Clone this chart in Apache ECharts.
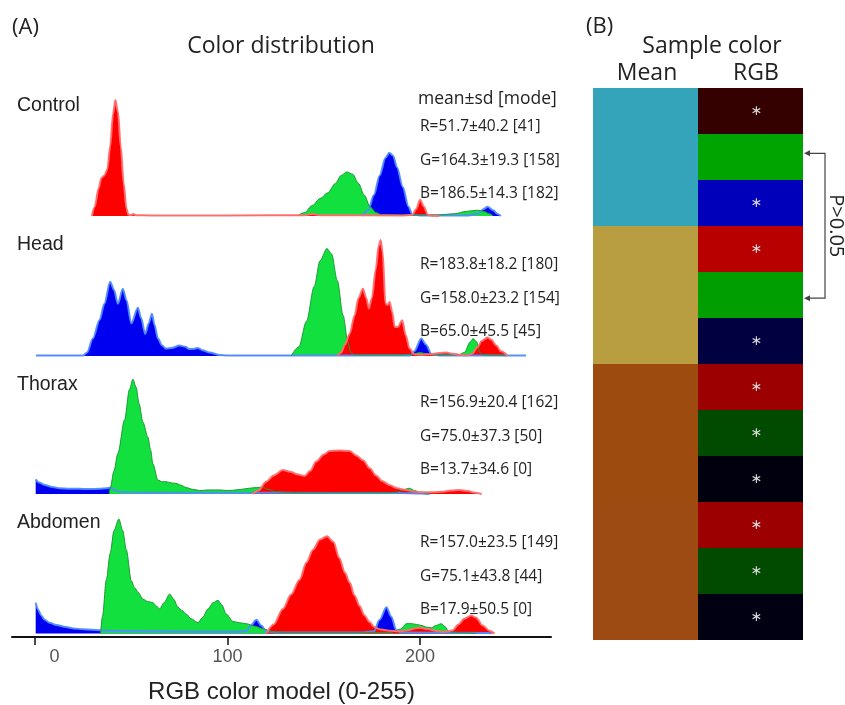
<!DOCTYPE html>
<html><head><meta charset="utf-8">
<script src="https://cdn.jsdelivr.net/npm/echarts@6/dist/echarts.min.js"></script>
<style>html,body{margin:0;padding:0;background:#fff}#c{width:845px;height:705px}</style>
</head><body><div id="c"></div>
<script>
// ---------- data ----------
const regions = ['Control', 'Head', 'Thorax', 'Abdomen'];
const xTicks = [0, 100, 200];
const meanR = [51.7, 183.8, 156.9, 157.0];
const sdR = [40.2, 18.2, 20.4, 23.5];
const modeR = [41, 180, 162, 149];
const meanG = [164.3, 158.0, 75.0, 75.1];
const sdG = [19.3, 23.2, 37.3, 43.8];
const modeG = [158, 154, 50, 44];
const meanB = [186.5, 65.0, 13.7, 17.9];
const sdB = [14.3, 45.5, 34.6, 50.5];
const modeB = [182, 45, 0, 0];
const starred = [[1, 0, 1], [1, 0, 1], [1, 1, 1], [1, 1, 1]];

// relative frequency histograms [value, density] (peak of each panel = 100)
const controlR = [[29.5,0],[31,8],[33,24],[34.5,33],[36,35],[37.5,40],[39,60],[40.5,88],[41.7,100],[43,90],[44.5,60],[46,28],[47.5,6],[48.5,1],[50,0.8],[51,1.8],[52.5,0.6],[60,0.5],[100,0.5],[140,0.6],[144,1.8],[148,0.6],[190,0.5],[196,1],[198,6],[200,14],[202,8],[204,1],[206,0.3],[210,0]];
const controlG = [[136,0],[140,3],[144,9],[148,15],[152,20],[156,28],[159,35],[162,38],[165,36],[168,28],[171,18],[174,8],[177,3],[180,1],[190,0.8],[200,0.8],[210,1],[218,2],[224,4],[230,5],[233,4],[236,2],[238,0]];
const controlB = [[170,0],[173,5],[176,18],[179,35],[182,50],[184,54.6],[186,52],[188,42],[191,25],[194,8],[196,1],[200,0.5],[225,0.5],[230,2],[233,6],[235,8],[238,5],[240,2],[242,0]];
const headR = [[157,0],[159,3],[161,10],[163.4,19],[166,35],[168,50],[170.3,58],[172,50],[173.4,41],[175,50],[177,75],[178.5,95],[179.5,100],[180.5,90],[182,45],[183,44],[184.2,46.5],[185.5,38],[186.8,25],[188.5,25],[190.7,30.8],[192.5,18],[194.5,6.4],[197,1.5],[200,1],[205,1.5],[210,2.5],[213.6,3],[217,2],[221,1],[224,0.5],[227,2],[230,8],[232,13],[235,16],[237,14],[239.6,9],[242,4],[245.6,0]];
const headG = [[133,0],[137,8],[141,30],[145,60],[148,82],[151.6,92.6],[154,88],[157,65],[160,35],[162.5,12],[164,3],[166,1],[190,1],[196,1.5],[200,3],[203,2],[207,1],[220,1],[223,3],[226,12],[227.5,15],[229.5,12],[231,3],[233,1],[240,0.5],[245,0]];
const headB = [[0.5,0.5],[20,0.5],[25,0.5],[27,3],[30,15],[33.5,31],[36,45],[39,64],[41,57],[43,45],[45.6,58],[47.5,48],[50,28],[53.4,41.7],[55,33],[57.2,19],[59,28],[60.7,36.5],[62,27],[63.8,15],[66,9],[68,6.4],[71,7],[75,9],[78,8],[80,6],[82,6],[84.4,7],[87,5],[90.6,3],[96,0.8],[100,0.5],[195,0.5],[197,4],[200.6,15],[203,10],[206,1.5],[210,0.5],[255,0.5]];
const thoraxR = [[113,0],[116,3],[120,10.6],[124,16],[128.7,20.7],[133,19],[136,17],[140,15.5],[143,20],[146,28],[150,34],[153,37],[158,37.5],[163.4,37],[167,33],[170.3,29],[174,22],[177,16],[180.5,11],[184,7.8],[188,5],[192.8,3.4],[197,2],[201,1.5],[206,1.5],[212,2],[216,3],[220.5,3.4],[225,2.5],[228,1.2],[231,0.5],[232,0]];
const thoraxG = [[38.5,0],[39,5],[41,20],[43,35],[46.5,64],[49,90],[50.8,99],[52.5,92],[54,78],[56,62],[58.6,49],[60,38],[61.2,26],[63.8,12],[66,10.5],[68,10.6],[71,9.5],[73,9.2],[76,7.5],[78.5,5.5],[82,4],[85.5,3],[90,3.5],[96,3.5],[100,3],[102.6,3.2],[107,4],[111.4,5],[115,5.5],[118,6],[121,4],[125,2],[130,1.5],[140,1],[180,1],[188,1.5],[192,4],[194.5,5],[197,3],[200,1.5],[205,0]];
const thoraxB = [[0.3,12.6],[2,10],[5,7.8],[9,6],[12.7,5],[18,4.6],[23,4.5],[28,4.3],[33.5,4.5],[37,5],[39,5.5],[42,3],[45,1.5],[60,1],[120,1],[190,0.8],[200,0.5],[205,0]];
const abdomenR = [[120,0],[124,8],[128.7,21.5],[133,34],[137.4,47],[141,62],[144.3,73],[148,82],[151.6,85],[155,80],[158,66],[161,53],[163.4,44.5],[166,33],[168.6,24],[171,16],[173.8,10],[176,6],[179,3.7],[184,2.5],[189,2],[194,3],[197,4.5],[200,5],[204,4],[208,2.5],[211.7,1.5],[215,2],[217,3],[220,8],[223,13],[226.6,15.8],[229,14],[232.5,7],[236,2.5],[238.7,0]];
const abdomenG = [[34,0],[35,15],[37,47],[39,70],[41,90],[43.5,100],[45.5,90],[47.4,73],[50,46],[51.7,40],[53.5,36],[56,30],[58.5,28],[61.2,27],[63,24],[64.7,21.5],[67,27],[69.9,34.5],[72,30],[74.2,23],[76.5,20],[78.5,17],[81,13],[84.6,9.5],[87,14],[89.8,21.5],[92.5,27],[95,29],[97,25],[99.3,17],[102.8,10.6],[106,9.5],[109.7,8.6],[114,6.5],[118.3,4.3],[123,1.5],[130,1],[185,1],[190,4],[192.8,8.6],[195,8.8],[198,8],[201,7],[203,5.7],[206,5],[208,7],[211,8.6],[213,6],[215,1.5],[220,1],[229,0]];
const abdomenB = [[0.3,27],[1.5,21],[3.2,15.8],[5,12],[7.5,9.5],[11,7.5],[16,5.7],[20,4.5],[25,3.7],[33.5,3],[40,2.5],[60,2],[90,1.5],[105,1.5],[110,2.5],[112,7],[115,12],[117.5,7],[120,2],[125,1],[170,1],[176,2],[179,12],[182.5,23],[185,15],[187.6,3],[190,1],[236,0.5],[237,0]];

const histR = [controlR, headR, thoraxR, abdomenR];
const histG = [controlG, headG, thoraxG, abdomenG];
const histB = [controlB, headB, thoraxB, abdomenB];

// ---------- layout ----------
const chart = echarts.init(document.getElementById('c'), null, {renderer: 'canvas'});
const gridTops = [100, 240, 378, 519];
const gridHeights = [116, 116, 116, 120];
const XMIN = -12, XMAX = 268;
const sans = '"Open Sans", "Noto Sans", sans-serif';
const arial = '"Liberation Sans", Arial, sans-serif';

const grids = [], xAxes = [], yAxes = [], series = [];
regions.forEach((r, i) => {
  grids.push({left: 12, width: 539, top: gridTops[i], height: gridHeights[i]});
  const last = i === regions.length - 1;
  xAxes.push({
    type: 'value', gridIndex: i, min: XMIN, max: XMAX, show: last,
    splitLine: {show: false},
    axisLine: {show: last, onZero: false, lineStyle: {color: '#111', width: 2}},
    axisTick: {show: last, customValues: xTicks, length: 8, lineStyle: {color: '#111', width: 1.5}},
    axisLabel: {show: last, customValues: xTicks, fontSize: 18, color: '#555', fontFamily: arial, margin: 11,
      formatter: v => v === 0 ? '{s|0}' : String(v),
      rich: {s: {padding: [0, 0, 0, 39], fontSize: 18, color: '#555', fontFamily: arial}}},
    name: last ? 'RGB color model (0-255)' : '', nameLocation: 'middle', nameGap: 43,
    nameTextStyle: {fontSize: 24, color: '#222', fontFamily: arial}
  });
  yAxes.push({type: 'value', gridIndex: i, min: last ? -3 : 0, max: 100, show: false});
  const mk = (data, fill, edge, ew) => ({
    type: 'line', xAxisIndex: i, yAxisIndex: i, data: data, symbol: 'none',
    smooth: 0.3, smoothMonotone: 'x', z: 2,
    lineStyle: {color: edge, width: ew},
    areaStyle: {color: fill, opacity: 1},
    emphasis: {disabled: true}, silent: true
  });
  series.push(mk(histB[i], '#0000F0', 'rgba(80,140,255,0.95)', 2));
  series.push(mk(histG[i], '#12E03E', '#1E9A34', 1));
  series.push(mk(histR[i], '#FF0000', 'rgba(255,110,110,0.95)', 2));
});

// panel B
grids.push({left: 593, width: 210, top: 88, height: 552});
xAxes.push({type: 'value', gridIndex: 4, min: 0, max: 2, show: false});
yAxes.push({type: 'value', gridIndex: 4, min: 0, max: 12, inverse: true, show: false});
const hex = v => Math.round(v).toString(16).padStart(2, '0');
const cells = [];
regions.forEach((r, i) => {
  cells.push({v: [0, 1, i * 3, i * 3 + 3], color: '#' + hex(meanR[i]) + hex(meanG[i]) + hex(meanB[i]), star: 0});
  [meanR[i], meanG[i], meanB[i]].forEach((m, c) => {
    const col = c === 0 ? '#' + hex(m) + '0000' : c === 1 ? '#00' + hex(m) + '00' : '#0000' + hex(m);
    cells.push({v: [1, 2, i * 3 + c, i * 3 + c + 1], color: col, star: starred[i][c]});
  });
});
series.push({
  type: 'custom', xAxisIndex: 4, yAxisIndex: 4, clip: false, silent: true,
  data: cells.map(c => c.v),
  encode: {x: [0, 1], y: [2, 3]},
  renderItem: (params, api) => {
    const cell = cells[params.dataIndex];
    const p0 = api.coord([api.value(0), api.value(2)]);
    const p1 = api.coord([api.value(1), api.value(3)]);
    const x0 = Math.round(p0[0]), y0 = Math.round(p0[1]), x1 = Math.round(p1[0]), y1 = Math.round(p1[1]);
    const children = [{type: 'rect', shape: {x: x0, y: y0, width: x1 - x0, height: y1 - y0},
      style: {fill: cell.color}}];
    if (cell.star) {
      children.push({type: 'text', style: {text: '∗', x: (x0 + x1) / 2 + 6, y: (y0 + y1) / 2,
        fill: '#d8d8d8', fontSize: 14, fontFamily: '"DejaVu Sans"', align: 'center', verticalAlign: 'middle'}});
    }
    return {type: 'group', children};
  }
});

chart.setOption({
  animation: false,
  grid: grids, xAxis: xAxes, yAxis: yAxes, series: series
});

// ---------- texts & annotations ----------
const g = [];
const txt = (text, x, y, size, family, align, extra) => g.push(Object.assign({
  type: 'text', silent: true,
  style: {text, x, y, fontSize: size, fontFamily: family, fill: '#222', textAlign: align || 'left', textVerticalAlign: 'middle'}
}, extra || {}));
txt('(A)', 12, 28, 22, sans);
txt('Color distribution', 281, 46, 23, sans, 'center');
txt('(B)', 586, 27, 22, sans);
txt('Sample color', 712, 46, 23, sans, 'center');
txt('Mean', 647, 73, 23, sans, 'center');
txt('RGB', 756, 73, 23, sans, 'center');
const labelY = [106, 245, 385, 523];
const statY = [127, 265, 403, 543];
regions.forEach((r, i) => {
  txt(r, 17, labelY[i], 19.5, arial);
  txt(`R=${meanR[i].toFixed(1)}±${sdR[i].toFixed(1)} [${modeR[i]}]`, 420, statY[i], 15.5, sans);
  txt(`G=${meanG[i].toFixed(1)}±${sdG[i].toFixed(1)} [${modeG[i]}]`, 420, statY[i] + 34, 15.5, sans);
  txt(`B=${meanB[i].toFixed(1)}±${sdB[i].toFixed(1)} [${modeB[i]}]`, 420, statY[i] + 67, 15.5, sans);
});
txt('mean±sd [mode]', 418, 99, 17.5, sans);

// bracket for the non-significant pair (Control G vs Head G)
const a1 = chart.convertToPixel({gridIndex: 4}, [2, 1.42]);
const a2 = chart.convertToPixel({gridIndex: 4}, [2, 4.57]);
const bx = a1[0] + 22;
g.push({type: 'polyline', silent: true, shape: {points: [[a1[0] + 5, a1[1]], [bx, a1[1]], [bx, a2[1]], [a2[0] + 5, a2[1]]]},
  style: {stroke: '#444', lineWidth: 1.2, fill: null}});
[a1, a2].forEach(a => g.push({type: 'polygon', silent: true,
  shape: {points: [[a[0] + 1, a[1]], [a[0] + 7, a[1] - 3], [a[0] + 7, a[1] + 3]]}, style: {fill: '#444'}}));
g.push({type: 'text', silent: true, x: bx + 11, y: (a1[1] + a2[1]) / 2, rotation: -Math.PI / 2,
  style: {text: 'P>0.05', x: 0, y: 0, fontSize: 20, fontFamily: sans, fill: '#222', textAlign: 'center', textVerticalAlign: 'middle'}});

chart.setOption({graphic: g});
</script>
</body></html>
